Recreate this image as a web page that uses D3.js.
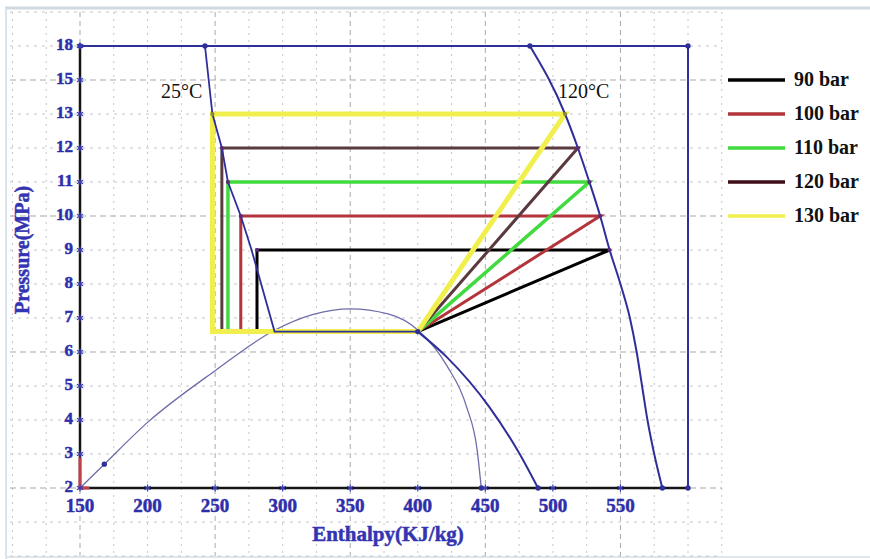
<!DOCTYPE html>
<html>
<head>
<meta charset="utf-8">
<script src="https://cdn.jsdelivr.net/npm/d3@7"></script>
<style>
  body { margin: 0; background: #fff; }
  svg { display: block; }
  .tick-label { font-family: "Liberation Serif", serif; font-weight: bold; fill: #2e2eaa; stroke: #2e2eaa; stroke-width: 0.5; }
  .title { font-family: "Liberation Serif", serif; font-weight: bold; fill: #3434b2; stroke: #3434b2; stroke-width: 0.5; }
  .note { font-family: "Liberation Serif", serif; fill: #111; }
</style>
</head>
<body>
<div id="container"></div>
<script>
/* DATA */
const xTicks = [150, 200, 250, 300, 350, 400, 450, 500, 550]
const yTicks = [2, 3, 4, 5, 6, 7, 8, 9, 10, 11, 12, 13, 15, 18]
const series = ["90 bar", "100 bar", "110 bar", "120 bar", "130 bar"]
const highP = [9, 10, 11, 12, 13]          // MPa, gas cooler pressure
const hOut = [281, 269, 259.5, 255, 248]   // enthalpy after gas cooler
const hComp = [542, 535, 527, 518.5, 509]  // enthalpy after compressor
const lowP = 6.6
const hEvap = 400

// 25°C isotherm (upper straight part + lower curved branch)
const iso25Upper = [[242.5, 18], [248, 13], [255, 12], [259.5, 11], [269, 10], [277, 9], [294, 6.6], [400, 6.6]]
const iso25Lower = [[400, 6.6], [421.5, 5.85], [453, 4.38], [475, 3.03], [489, 2]]
// 120°C isotherm
const iso120 = [[483, 18], [509, 13], [518.5, 12], [527, 11], [535, 10], [542, 9], [550, 8], [557, 7], [562, 6], [566, 5], [570, 4], [575, 3], [581, 2]]
// saturation dome
const dome = [[150, 2], [168, 2.7], [200, 3.93], [250, 5.45], [294, 6.64], [322, 7.1], [350, 7.27], [378, 7.12], [400, 6.65], [421.5, 5.6], [436, 4.4], [444, 3.1], [447, 2]]
const redMark = [[150, 2.9], [150, 2], [157, 2]]
const dots = [[150, 18], [242.5, 18], [483, 18], [600, 18], [168, 2.7], [400, 6.6], [489, 2], [581, 2], [447, 2], [600, 2]]

const colors = ["#000000", "#b3343b", "#41da3f", "#5a3a3f", "#f1ef4d"]
const widths = [3, 3, 3.5, 3, 5]
const legendColors = ["#000000", "#b3343b", "#41da3f", "#3e0d18", "#f1ef4d"]

/* SIZES */
const width = 870, height = 559

/* SCALES */
const xScale = d3.scaleLinear().domain([150, 600]).range([80, 688])
// pressure axis is spaced by tick index, not linearly
const idx = d3.scaleLinear().domain([0, 13]).range([488, 46])
const yScale = d3.scaleLinear()
  .domain(yTicks)
  .range(yTicks.map((d, i) => idx(i)))

const svg = d3.select("#container").append("svg")
  .attr("width", width).attr("height", height)

// page borders of the screenshot
svg.append("rect").attr("x", 0).attr("y", 0).attr("width", width).attr("height", height).attr("fill", "#fff")
svg.append("line").attr("x1", 5).attr("x2", width).attr("y1", 8).attr("y2", 8)
  .attr("stroke", "#cfd9e1").attr("stroke-width", 3)
svg.append("line").attr("x1", 6).attr("x2", 6).attr("y1", 8).attr("y2", height)
  .attr("stroke", "#dbe3ea").attr("stroke-width", 2)
svg.append("line").attr("x1", 5).attr("x2", width).attr("y1", 557).attr("y2", 557)
  .attr("stroke", "#dfe6ec").attr("stroke-width", 2)

/* GRID */
const grid = svg.append("g")
d3.range(100, 626, 25).forEach(v => {
  const major = (v - 150) % 100 === 0
  grid.append("line")
    .attr("x1", xScale(v)).attr("x2", xScale(v)).attr("y1", 12).attr("y2", 556)
    .attr("stroke", major ? "#a9a9a9" : "#c6c6c6")
    .attr("stroke-width", 1)
    .attr("stroke-dasharray", major ? "5,4" : "2,5")
})
d3.range(-2, 15).forEach(i => {
  const major = i % 4 === 0
  grid.append("line")
    .attr("x1", 10).attr("x2", 722).attr("y1", idx(i)).attr("y2", idx(i))
    .attr("stroke", major ? "#a9a9a9" : "#c6c6c6")
    .attr("stroke-width", 1)
    .attr("stroke-dasharray", major ? "6,4" : "3,5")
})

/* FRAME */
const line = d3.line().x(d => xScale(d[0])).y(d => yScale(d[1]))
const curve = d3.line().x(d => xScale(d[0])).y(d => yScale(d[1])).curve(d3.curveMonotoneX)
svg.append("path").attr("d", line([[150, 18], [600, 18], [600, 2]]))
  .attr("fill", "none").attr("stroke", "#2f2f9a").attr("stroke-width", 2)
svg.append("path").attr("d", line([[150, 18], [150, 2], [600, 2]]))
  .attr("fill", "none").attr("stroke", "#151515").attr("stroke-width", 2.5)

/* DOME */
svg.append("path").attr("d", curve(dome))
  .attr("fill", "none").attr("stroke", "#6d6daa").attr("stroke-width", 1.3)

svg.append("path").attr("d", line(redMark))
  .attr("fill", "none").attr("stroke", "#c0404a").attr("stroke-width", 3)

/* CYCLES */
series.forEach((s, i) => {
  const pts = [[hEvap, lowP], [hComp[i], highP[i]], [hOut[i], highP[i]], [hOut[i], lowP], [hEvap, lowP]]
  svg.append("path").attr("d", line(pts))
    .attr("fill", "none")
    .attr("stroke", colors[i])
    .attr("stroke-width", widths[i])
    .attr("stroke-linejoin", "miter")
})

/* ISOTHERMS */
svg.append("path").attr("d", line(iso25Upper))
  .attr("fill", "none").attr("stroke", "#2f2f9a").attr("stroke-width", 1.8)
svg.append("path").attr("d", curve(iso25Lower))
  .attr("fill", "none").attr("stroke", "#2f2f9a").attr("stroke-width", 2)
svg.append("path").attr("d", curve(iso120))
  .attr("fill", "none").attr("stroke", "#2f2f9a").attr("stroke-width", 2)

// markers at cycle corners
const cornerPts = highP.map((p, i) => [hComp[i], p]).concat(highP.map((p, i) => [hOut[i], p]))
svg.selectAll(".corner").data(cornerPts).join("path")
  .attr("class", "corner")
  .attr("transform", d => `translate(${xScale(d[0])},${yScale(d[1])})`)
  .attr("d", d3.symbol(d3.symbolCircle, 14))
  .attr("fill", (d, i) => i % 5 === 4 ? "#8a8a3a" : "#5a2a7a")

svg.selectAll(".dot").data(dots).join("path")
  .attr("class", "dot")
  .attr("transform", d => `translate(${xScale(d[0])},${yScale(d[1])})`)
  .attr("d", d3.symbol(d3.symbolCircle, 22))
  .attr("fill", "#2f2f9a")

/* AXES (asterisk tick marks + labels) */
const ast = d3.symbol(d3.symbolAsterisk, 36)
svg.selectAll(".ytick").data(yTicks).join("path")
  .attr("class", "ytick")
  .attr("transform", d => `translate(${xScale(150)},${yScale(d)})`)
  .attr("d", ast).attr("stroke", "#3a3ab4").attr("stroke-width", 1.2).attr("fill", "none")
svg.selectAll(".xtick").data(xTicks.slice(1)).join("path")
  .attr("class", "xtick")
  .attr("transform", d => `translate(${xScale(d)},${yScale(2)})`)
  .attr("d", ast).attr("stroke", "#3a3ab4").attr("stroke-width", 1.2).attr("fill", "none")

svg.selectAll(".ylab").data(yTicks).join("text")
  .attr("class", "tick-label ylab")
  .attr("x", 73).attr("y", d => yScale(d) + 4)
  .attr("text-anchor", "end")
  .attr("font-size", 17)
  .text(d => d)
svg.selectAll(".xlab").data(xTicks).join("text")
  .attr("class", "tick-label xlab")
  .attr("x", d => xScale(d)).attr("y", 512)
  .attr("text-anchor", "middle")
  .attr("font-size", 19)
  .text(d => d)

svg.append("text").attr("class", "title")
  .attr("x", 388).attr("y", 541).attr("text-anchor", "middle")
  .attr("font-size", 21).text("Enthalpy(KJ/kg)")
svg.append("text").attr("class", "title")
  .attr("transform", "translate(29,250) rotate(-90)")
  .attr("text-anchor", "middle")
  .attr("font-size", 20).text("Pressure(MPa)")

svg.append("text").attr("class", "note")
  .attr("x", 161).attr("y", 98).attr("font-size", 20).text("25°C")
svg.append("text").attr("class", "note")
  .attr("x", 558).attr("y", 98).attr("font-size", 20).text("120°C")

/* LEGEND */
const legend = svg.append("g")
series.forEach((s, i) => {
  const yy = idx(12) + i * 34
  legend.append("line")
    .attr("x1", 728).attr("x2", 785).attr("y1", yy).attr("y2", yy)
    .attr("stroke", legendColors[i]).attr("stroke-width", 3.5)
  legend.append("text").attr("class", "note")
    .attr("x", 794).attr("y", yy + 6)
    .attr("font-size", 20).attr("font-weight", "bold")
    .text(s)
})
</script>
</body>
</html>
